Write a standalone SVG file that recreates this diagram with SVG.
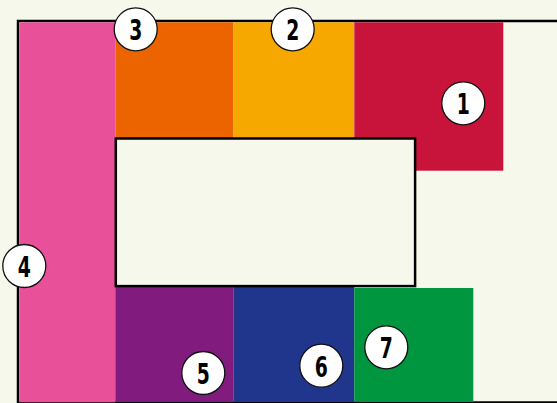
<svg xmlns="http://www.w3.org/2000/svg" width="557" height="403" viewBox="0 0 557 403">
<style>
.blk{stroke:none}
.lbl circle{fill:#ffffff;stroke:#111;stroke-width:1.3}
.lbl text{font-family:"DejaVu Sans Condensed","DejaVu Sans",sans-serif;font-stretch:condensed;font-weight:bold;font-size:29px;fill:#000;text-anchor:middle;dominant-baseline:central}
</style>
<rect x="0" y="0" width="557" height="403" fill="#f7f8ec"/>
<rect id="outline" x="18" y="21" width="560" height="381.5" fill="none" stroke="#000" stroke-width="2.5"/>
<g id="blocks">
<rect id="b4" class="blk" x="19.3" y="22.3" width="96" height="380" fill="#e8509a"/>
<rect id="b3" class="blk" x="115.3" y="22.3" width="118" height="116" fill="#ec6400"/>
<rect id="b2" class="blk" x="233.3" y="22.3" width="121" height="116" fill="#f7a800"/>
<rect id="b1" class="blk" x="354.3" y="22.3" width="149" height="148.4" fill="#c8143a"/>
<rect id="b5" class="blk" x="115.3" y="286" width="118" height="116" fill="#811c7e"/>
<rect id="b6" class="blk" x="233.3" y="286" width="121" height="116" fill="#20358c"/>
<rect id="b7" class="blk" x="354.3" y="288" width="119" height="114" fill="#00963f"/>
</g>
<g id="center"><rect x="115.8" y="138.5" width="299.3" height="147.6" fill="#f7f8ec" stroke="#000" stroke-width="2.5"/></g>
<g id="n1" class="lbl"><circle cx="463.3" cy="103.3" r="21.5"/><text transform="translate(463.3 104.5) scale(0.72 1)">1</text></g>
<g id="n2" class="lbl"><circle cx="292.7" cy="29.3" r="21.5"/><text transform="translate(292.7 30.5) scale(0.72 1)">2</text></g>
<g id="n3" class="lbl"><circle cx="135.7" cy="29.3" r="21.5"/><text transform="translate(135.7 30.5) scale(0.72 1)">3</text></g>
<g id="n4" class="lbl"><circle cx="24.3" cy="266" r="21.5"/><text transform="translate(24.3 267.2) scale(0.72 1)">4</text></g>
<g id="n5" class="lbl"><circle cx="203.3" cy="373" r="21.5"/><text transform="translate(203.3 374.2) scale(0.72 1)">5</text></g>
<g id="n6" class="lbl"><circle cx="321.3" cy="365.7" r="21.5"/><text transform="translate(321.3 366.9) scale(0.72 1)">6</text></g>
<g id="n7" class="lbl"><circle cx="386.3" cy="347.3" r="21.5"/><text transform="translate(386.3 348.5) scale(0.72 1)">7</text></g>
<g id="connectors"></g>
</svg>
